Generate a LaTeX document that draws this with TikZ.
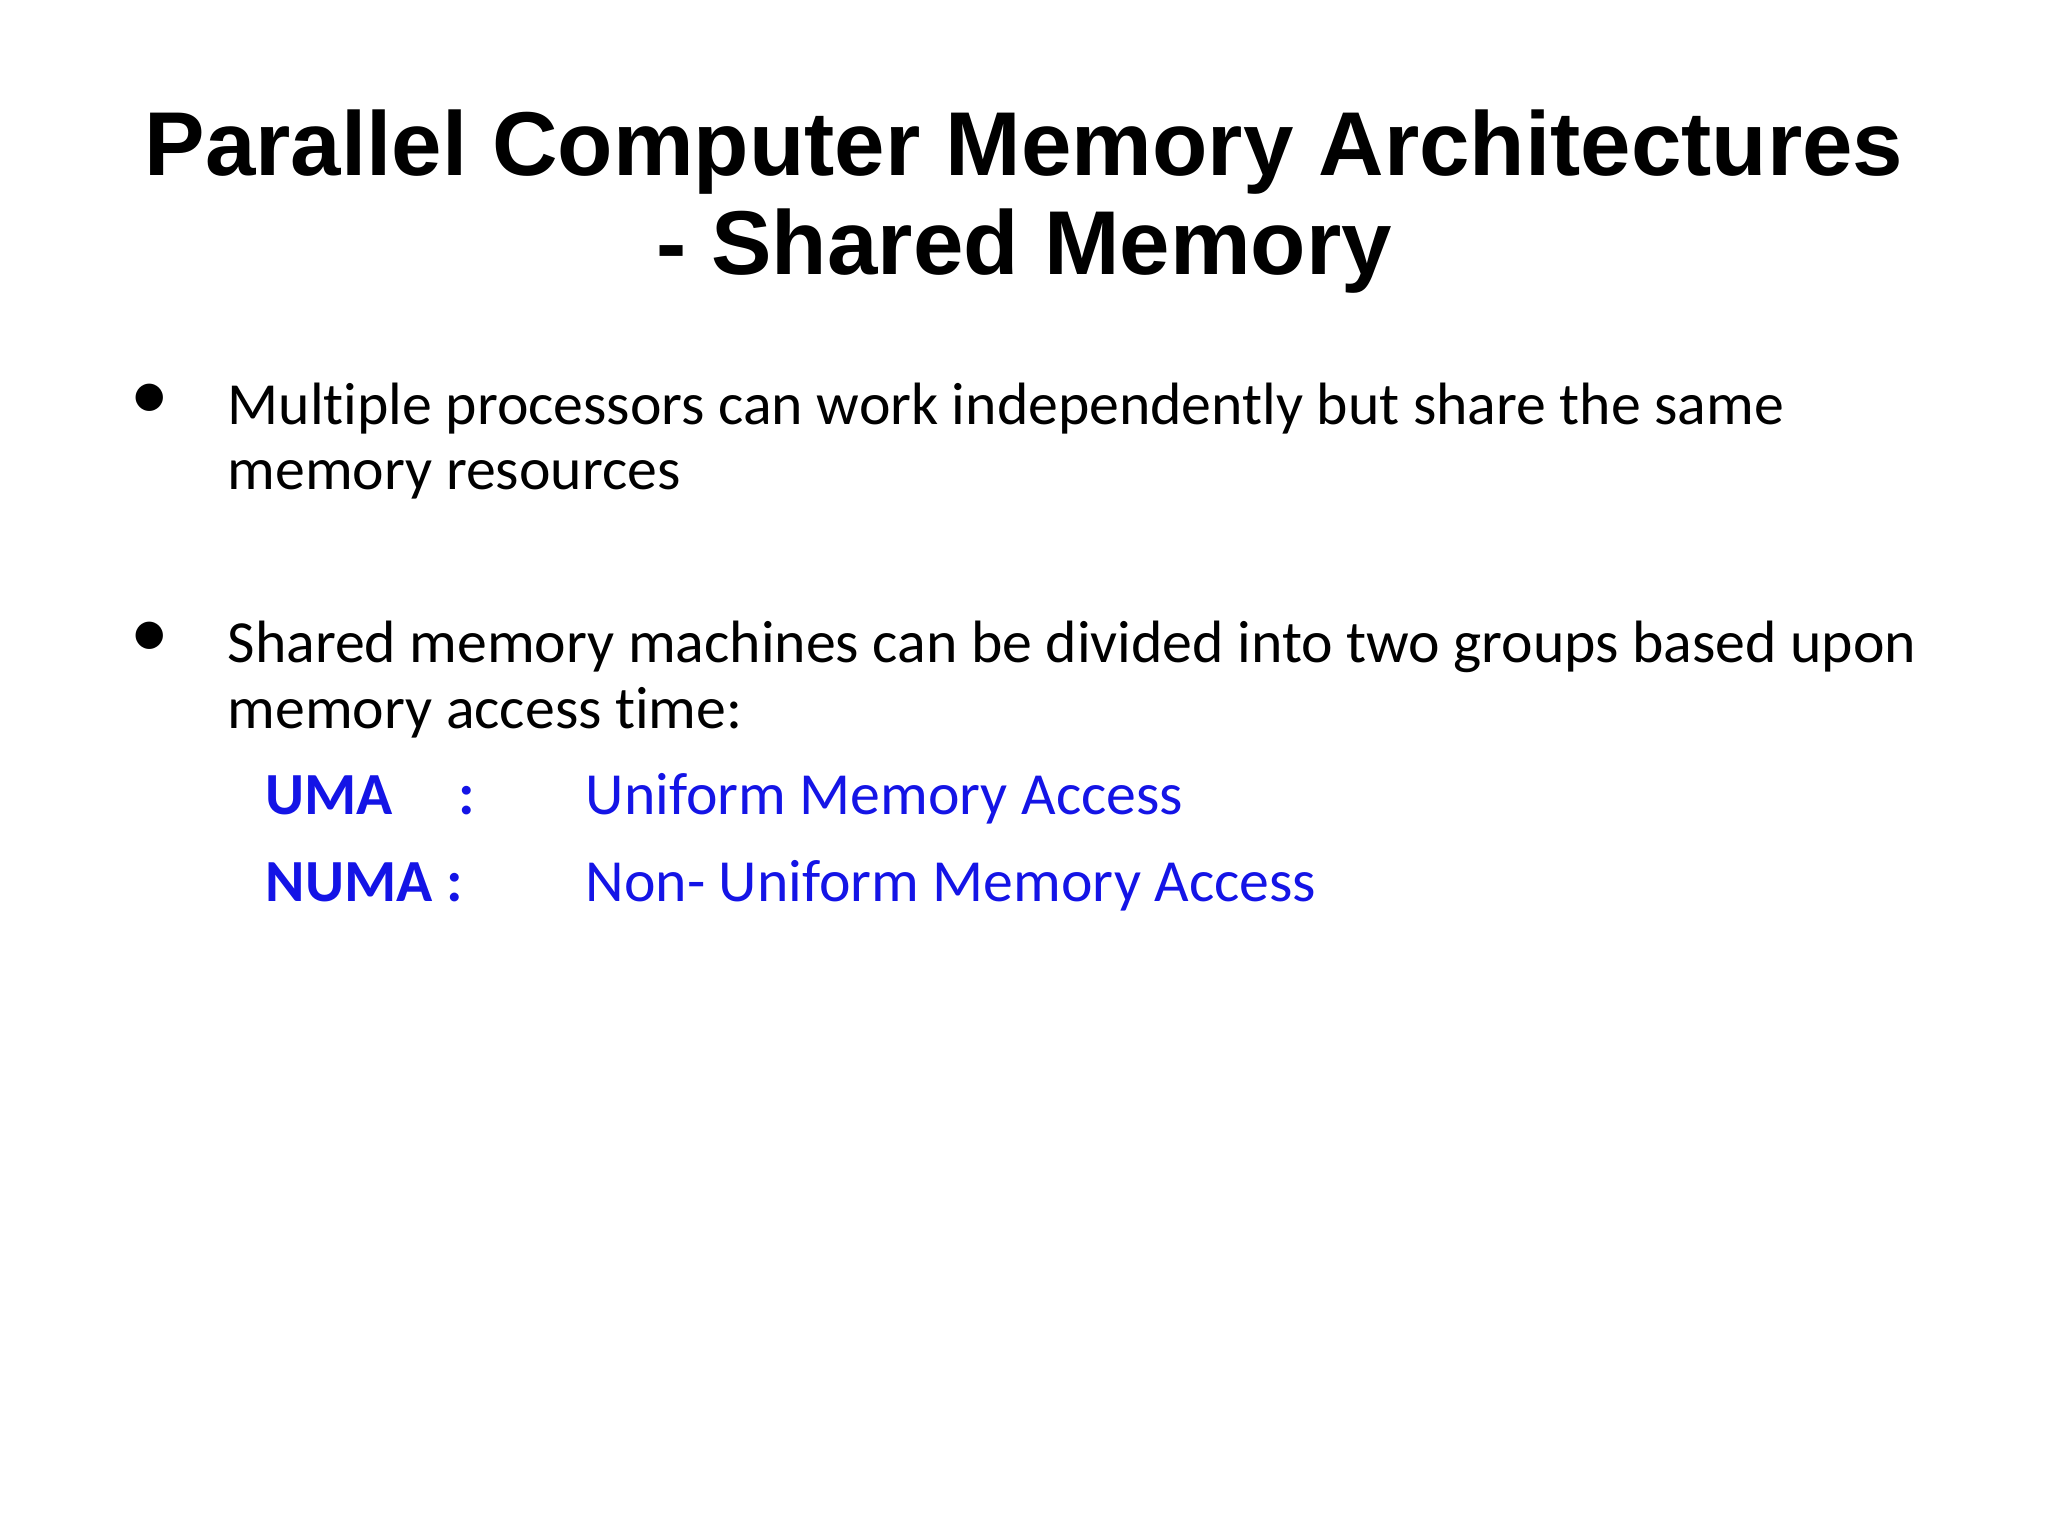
\documentclass[tikz,border=0pt]{standalone}
\usepackage{fontspec}
\setmainfont[RawFeature=-liga]{Carlito}
\newfontfamily\titlefont{Liberation Sans}
\definecolor{umablue}{RGB}{20,20,230}
\begin{document}
\begin{tikzpicture}[
  ttl/.style={font=\titlefont\bfseries\fontsize{25.8}{30}\selectfont, anchor=base},
  body/.style={font=\fontsize{17}{20}\selectfont, anchor=base west, inner sep=0pt},
  blu/.style={body, text=umablue},
  bblu/.style={blu, font=\fontsize{17}{20}\selectfont\bfseries},
  bul/.style={font=\fontsize{22}{22}\selectfont, anchor=base, inner sep=0pt}]
\useasboundingbox (0,0) rectangle (20.48,-15.36);
\node[ttl] (t1) at (10.24,-1.76) {Parallel Computer Memory Architectures};
\node[ttl] (t2) at (10.24,-2.75) {- Shared Memory};
\node[bul] (b1) at (1.50,-4.20) {\textbullet};
\node[body] (l1) at (2.27,-4.25) {Multiple processors can work independently but share the same};
\node[body] (l2) at (2.27,-4.90) {memory resources};
\node[bul] (b2) at (1.50,-6.58) {\textbullet};
\node[body] (l3) at (2.27,-6.63) {Shared memory machines can be divided into two groups based upon};
\node[body] (l4) at (2.27,-7.28) {memory access time:};
\node[bblu] (u1) at (2.65,-8.15) {UMA};
\node[bblu] (u2) at (4.58,-8.15) {:};
\node[blu] (u3) at (5.85,-8.15) {Uniform Memory Access};
\node[bblu] (n1) at (2.65,-9.02) {NUMA :};
\node[blu] (n3) at (5.85,-9.02) {Non- Uniform Memory Access};
\end{tikzpicture}
\end{document}
